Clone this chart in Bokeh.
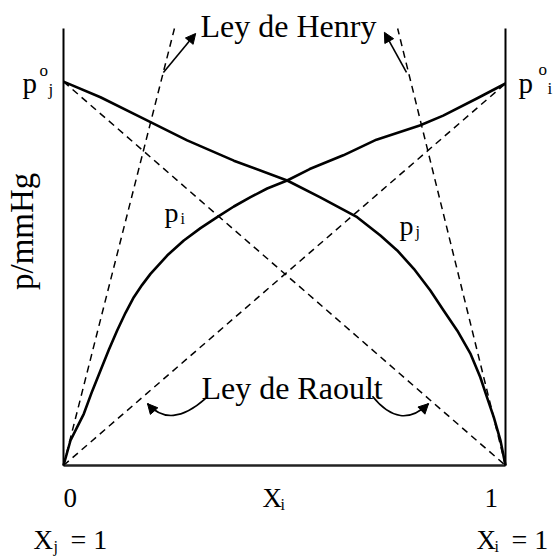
import math
from bokeh.plotting import figure
from bokeh.models import Range1d, Arrow, NormalHead
from bokeh.core.properties import value
from bokeh.embed import file_html
from bokeh.resources import INLINE

# ---- data ----
x_i = [0.0, 0.0158, 0.0309, 0.0460, 0.0649, 0.0837, 0.1026, 0.1214, 0.1403, 0.1591,
       0.1780, 0.1968, 0.2345, 0.2722, 0.3100, 0.3477, 0.3854, 0.4231, 0.4608, 0.5060,
       0.557, 0.633, 0.708, 0.806, 0.859, 0.934, 1.0]
p_i = [0.0, 6.54, 10.03, 13.53, 19.46, 24.87, 30.28, 35.34, 39.97, 44.07,
       47.29, 50.17, 54.97, 58.90, 62.13, 65.01, 67.80, 70.24, 72.51, 74.61,
       77.6, 81.2, 85.3, 89.0, 91.6, 96.0, 100.0]
x_j = [0.0, 0.0837, 0.1742, 0.2798, 0.3854, 0.5060, 0.581, 0.6644, 0.717, 0.755,
       0.7926, 0.830, 0.860, 0.891, 0.921, 0.943, 0.958, 0.9736, 0.9887, 1.0]
p_j = [100.5, 96.4, 91.2, 85.1, 79.8, 74.61, 70.2, 65.0, 60.2, 56.3,
       51.5, 45.8, 40.6, 35.3, 29.2, 23.1, 17.9, 12.6, 6.5, 0.0]
p0_i = 100.0
p0_j = 100.5
y_top = 114.4
henry_i_x = [0.0, 0.251]
henry_j_x = [1.0, 0.756]

FONT = value("Liberation Serif")
PX_X = 442.0   # pixels per x unit
PX_Y = 3.82    # pixels per y unit

p = figure(width=556, height=556,
           x_range=Range1d(-0.142534, 1.115385), y_range=Range1d(-23.822, 121.728),
           output_backend="svg", toolbar_location=None, min_border=0,
           x_axis_location=None, y_axis_location=None)
p.grid.visible = False
p.outline_line_color = None

dash = "7 5"
# Raoult lines
p.line([0, 1], [0, p0_i], line_color="black", line_width=1.5, line_dash=dash)
p.line([0, 1], [p0_j, 0], line_color="black", line_width=1.5, line_dash=dash)
# Henry lines
p.line(henry_i_x, [0, y_top], line_color="black", line_width=1.5, line_dash=dash)
p.line(henry_j_x, [0, y_top], line_color="black", line_width=1.5, line_dash=dash)

# frame lines
p.line([0, 0], [0, y_top], line_color="black", line_width=2)
p.line([1, 1], [0, y_top], line_color="black", line_width=2)
p.line([0, 1], [0, 0], line_color="#222222", line_width=2.5)

# real curves
p.line(x_i, p_i, line_color="black", line_width=2.6, line_join="round")
p.line(x_j, p_j, line_color="black", line_width=2.6, line_join="round")

def head():
    return NormalHead(size=10, fill_color="black", line_color="black", line_width=1)

# Henry arrows
p.add_layout(Arrow(end=head(), x_start=0.226, y_start=102.9, x_end=0.299, y_end=113.1,
                   line_width=1.6, line_color="black"))
p.add_layout(Arrow(end=head(), x_start=0.776, y_start=102.9, x_end=0.726, y_end=113.4,
                   line_width=1.6, line_color="black"))

# Raoult curved arrows
for (x0, y0, x1, y1, cx, cy) in [(0.321, 17.5, 0.190, 16.2, 0.242, 9.4),
                                  (0.699, 18.1, 0.826, 16.2, 0.762, 9.0)]:
    p.quadratic(x0=[x0], y0=[y0], x1=[x1], y1=[y1], cx=[cx], cy=[cy],
                line_color="black", line_width=1.6)
    sx = x1 - 0.2 * (x1 - cx)
    sy = y1 - 0.2 * (y1 - cy)
    p.add_layout(Arrow(end=head(), x_start=sx, y_start=sy, x_end=x1, y_end=y1,
                       line_width=1.6, line_color="black"))

def txt(x, y, s, size, align="left", angle=0.0):
    # compensate the renderer's baseline placement (about 0.35 em low)
    off = 0.35 * size
    if angle:
        x = x - off / PX_X
    else:
        y = y + off / PX_Y
    p.text(x=[x], y=[y], text=[s], text_font=FONT, text_font_size=f"{size}px",
           text_align=align, text_baseline="alphabetic", angle=angle,
           text_color="black")

txt(0.310, 112.0, "Ley de Henry", 32)
txt(0.312, 17.3, "Ley de Raoult", 32)

# p°j
txt(-0.0928, 97.4, "p", 29)
txt(-0.0543, 101.8, "o", 17)
txt(-0.0339, 96.9, "j", 17)
# p°i
txt(1.0294, 97.6, "p", 29)
txt(1.0747, 102.1, "o", 17)
txt(1.0950, 97.1, "i", 17)

# curve labels
txt(0.2285, 63.6, "p", 28)
txt(0.2647, 63.1, "i", 16)
txt(0.7602, 60.2, "p", 28)
txt(0.7964, 59.7, "j", 16)

# y label
txt(-0.0679, 61.3, "p/mmHg", 33, align="center", angle=math.pi / 2)

# bottom labels
txt(0.0, -11.0, "0", 27)
txt(0.9525, -11.0, "1", 27)
txt(0.4502, -11.0, "X", 27)
txt(0.4910, -11.8, "i", 16)

txt(-0.0679, -22.0, "X", 27)
txt(-0.0226, -22.8, "j", 16)
txt(0.0158, -22.0, "= 1", 28)

txt(0.9344, -22.0, "X", 27)
txt(0.9751, -22.8, "i", 16)
txt(1.0135, -22.0, "= 1", 28)

open("out.html", "w").write(file_html(p, INLINE))
